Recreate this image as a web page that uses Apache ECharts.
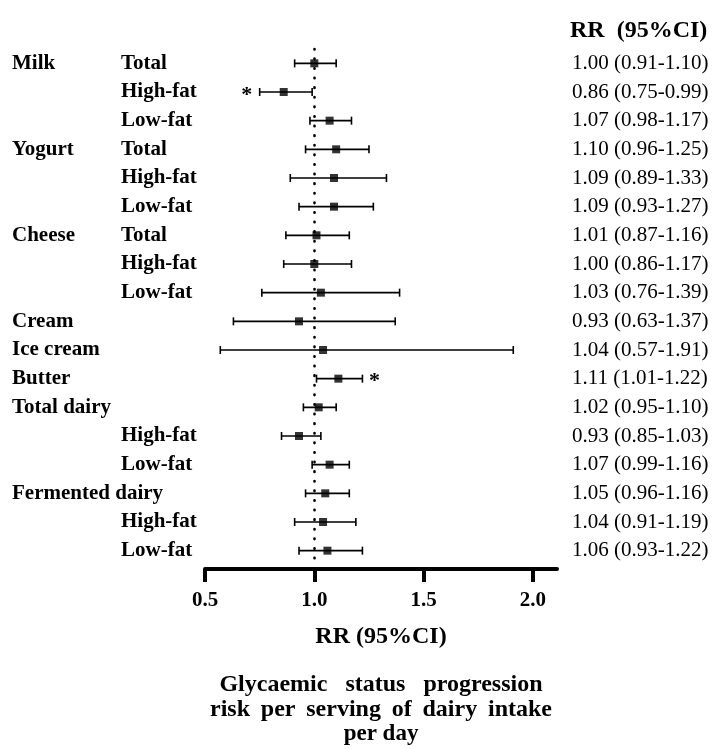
<!DOCTYPE html>
<html>
<head>
<meta charset="utf-8">
<script src="https://cdn.jsdelivr.net/npm/echarts@6/dist/echarts.min.js"></script>
<style>
  html, body { margin: 0; padding: 0; background: #fff; }
  #chart { width: 713px; height: 749px; }
</style>
</head>
<body>
<div id="chart"></div>
<script>
// Dairy sub-types, one row each, top to bottom
const groups = ['Milk', '', '', 'Yogurt', '', '', 'Cheese', '', '', 'Cream', 'Ice cream', 'Butter',
                'Total dairy', '', '', 'Fermented dairy', '', ''];
const subgroups = ['Total', 'High-fat', 'Low-fat', 'Total', 'High-fat', 'Low-fat', 'Total', 'High-fat', 'Low-fat',
                   '', '', '', '', 'High-fat', 'Low-fat', '', 'High-fat', 'Low-fat'];
// Relative risk and 95% confidence limits
const rr    = [1.00, 0.86, 1.07, 1.10, 1.09, 1.09, 1.01, 1.00, 1.03, 0.93, 1.04, 1.11, 1.02, 0.93, 1.07, 1.05, 1.04, 1.06];
const lower = [0.91, 0.75, 0.98, 0.96, 0.89, 0.93, 0.87, 0.86, 0.76, 0.63, 0.57, 1.01, 0.95, 0.85, 0.99, 0.96, 0.91, 0.93];
const upper = [1.10, 0.99, 1.17, 1.25, 1.33, 1.27, 1.16, 1.17, 1.39, 1.37, 1.91, 1.22, 1.10, 1.03, 1.16, 1.16, 1.19, 1.22];
// Significant estimates: which side of the interval carries the asterisk
const starSide = ['', 'left', '', '', '', '', '', '', '', '', '', 'right', '', '', '', '', '', ''];
const xTicks = [0.5, 1.0, 1.5, 2.0];

const FONT = "'Liberation Serif', 'Times New Roman', serif";
const rows = rr.map((_, i) => String(i));
const ciText = rr.map((v, i) => `${v.toFixed(2)} (${lower[i].toFixed(2)}-${upper[i].toFixed(2)})`);

const chart = echarts.init(document.getElementById('chart'), null, { renderer: 'canvas' });

const hiddenY = {
  type: 'category',
  data: rows,
  inverse: true,
  axisLine: { show: false },
  axisTick: { show: false },
  splitLine: { show: false }
};

// caption lines; the first two are spread out to a common width
const gap1 = '   ';
const gap2 = ' \u2009';
const captionLine1 = ['Glycaemic', 'status', 'progression'].join(gap1);
const captionLine2 = ['risk', 'per', 'serving', 'of', 'dairy', 'intake'].join(gap2);
const captionLine3 = 'per day';

chart.setOption({
  animation: false,
  backgroundColor: '#ffffff',
  title: [
    {
      text: 'RR  (95%CI)',
      left: 570,
      top: 19,
      padding: 0,
      textStyle: { fontFamily: FONT, fontWeight: 'bold', fontSize: 24, color: '#000' }
    },
    {
      text: `{wide|${captionLine1}}\n{wide|${captionLine2}}\n{tight|${captionLine3}}`,
      left: 381,
      top: 672,
      padding: 0,
      textAlign: 'center',
      textStyle: {
        fontFamily: FONT, fontWeight: 'bold', fontSize: 23, lineHeight: 25, color: '#000',
        rich: {
          wide: { fontFamily: FONT, fontWeight: 'bold', fontSize: 24, lineHeight: 25, color: '#000' },
          tight: { fontFamily: FONT, fontWeight: 'bold', fontSize: 23, lineHeight: 25, color: '#000' }
        }
      }
    }
  ],
  grid: { left: 205, right: 156, top: 49, bottom: 184, containLabel: false },
  xAxis: {
    type: 'value',
    min: 0.5,
    max: 2.11,
    offset: 4,
    splitLine: { show: false },
    axisLine: { show: true, lineStyle: { color: '#000', width: 4 } },
    axisTick: { show: true, customValues: xTicks, length: 13, lineStyle: { color: '#000', width: 4 } },
    axisLabel: {
      customValues: xTicks,
      formatter: v => v.toFixed(1),
      margin: 21,
      fontFamily: FONT, fontWeight: 'bold', fontSize: 21, color: '#000'
    },
    name: 'RR (95%CI)',
    nameLocation: 'middle',
    nameGap: 56,
    nameTextStyle: { fontFamily: FONT, fontWeight: 'bold', fontSize: 24, color: '#000' }
  },
  yAxis: [
    Object.assign({}, hiddenY, {
      position: 'left',
      axisLabel: {
        interval: 0, align: 'left', margin: 84,
        formatter: (v, i) => subgroups[i],
        fontFamily: FONT, fontWeight: 'bold', fontSize: 21, color: '#000'
      }
    }),
    Object.assign({}, hiddenY, {
      position: 'left',
      axisLabel: {
        interval: 0, align: 'left', margin: 193,
        formatter: (v, i) => groups[i],
        fontFamily: FONT, fontWeight: 'bold', fontSize: 21, color: '#000'
      }
    }),
    Object.assign({}, hiddenY, {
      position: 'right',
      axisLabel: {
        interval: 0, align: 'left', margin: 15,
        formatter: (v, i) => ciText[i],
        fontFamily: FONT, fontSize: 21, color: '#000'
      }
    })
  ],
  series: [
    {
      // confidence intervals with end caps, plus asterisks for significant rows
      type: 'custom',
      yAxisIndex: 0,
      data: rr.map((_, i) => [i, lower[i], upper[i]]),
      encode: { x: [1, 2], y: 0 },
      renderItem: (params, api) => {
        const i = api.value(0);
        const lo = api.coord([api.value(1), i]);
        const hi = api.coord([api.value(2), i]);
        const cap = 4;
        const style = { stroke: '#000', lineWidth: 1.6 };
        const children = [
          { type: 'line', shape: { x1: lo[0], y1: lo[1], x2: hi[0], y2: hi[1] }, style },
          { type: 'line', shape: { x1: lo[0], y1: lo[1] - cap, x2: lo[0], y2: lo[1] + cap }, style },
          { type: 'line', shape: { x1: hi[0], y1: hi[1] - cap, x2: hi[0], y2: hi[1] + cap }, style }
        ];
        const side = starSide[i];
        if (side) {
          children.push({
            type: 'text',
            style: {
              text: '*',
              x: side === 'left' ? lo[0] - 13 : hi[0] + 12,
              y: lo[1] + 3,
              align: 'center',
              verticalAlign: 'middle',
              font: `bold 22px ${FONT}`,
              fill: '#000'
            }
          });
        }
        return { type: 'group', children };
      },
      z: 2
    },
    {
      type: 'scatter',
      yAxisIndex: 0,
      data: rr.map((v, i) => [v, i]),
      symbol: 'rect',
      symbolSize: 8,
      itemStyle: { color: '#000' },
      z: 3,
      markLine: {
        silent: true,
        symbol: 'none',
        label: { show: false },
        lineStyle: { color: '#000', width: 2.6, type: [0.5, 9.1], cap: 'round' },
        data: [{ xAxis: 1.0 }]
      }
    }
  ]
});
</script>
</body>
</html>
